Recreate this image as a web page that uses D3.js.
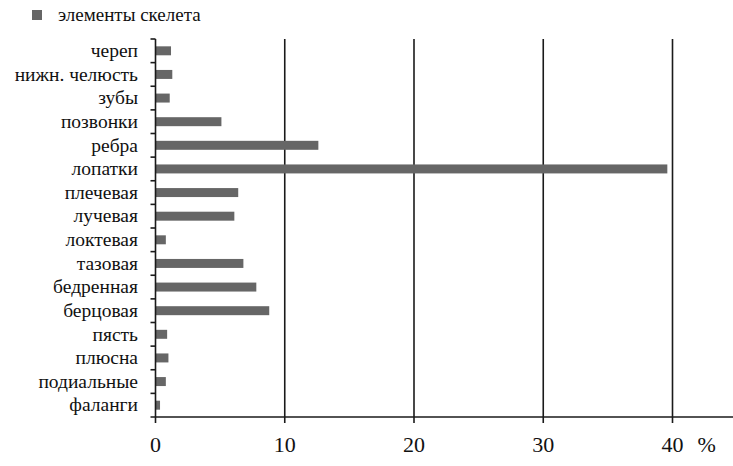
<!DOCTYPE html>
<html>
<head>
<meta charset="utf-8">
<script src="https://cdn.jsdelivr.net/npm/d3@7"></script>
<style>
  body { margin: 0; background: #fff; }
  svg text { font-family: 'Liberation Serif', 'Times New Roman', 'DejaVu Serif', serif; fill: #111; }
</style>
</head>
<body>
<svg id="board" width="733" height="466" font-family="'Liberation Serif', 'Times New Roman', serif"></svg>
<script>
// data
var categories = ["череп", "нижн. челюсть", "зубы", "позвонки", "ребра", "лопатки",
  "плечевая", "лучевая", "локтевая", "тазовая", "бедренная", "берцовая",
  "пясть", "плюсна", "подиальные", "фаланги"];
var values = [1.2, 1.3, 1.1, 5.1, 12.6, 39.6, 6.4, 6.1, 0.8, 6.8, 7.8, 8.8, 0.9, 1.0, 0.8, 0.35];
var tickValues = [0, 10, 20, 30, 40];
var seriesName = "элементы скелета";

var board = d3.select("#board");
var plotLeft = 155.5, plotTop = 39, plotBottom = 417;

var x = d3.scaleLinear().domain([0, 40]).range([plotLeft, 672.5]);
var y = d3.scaleBand().domain(categories).range([plotTop, plotBottom]).paddingInner(0.62).paddingOuter(0.31);
var band = d3.scaleBand().domain(categories).range([plotTop, plotBottom]);

// grid lines
board.selectAll("line.grid")
  .data(tickValues.filter(function(d){ return d > 0; }))
  .enter().append("line")
  .attr("class", "grid")
  .attr("x1", function(d){ return x(d); })
  .attr("x2", function(d){ return x(d); })
  .attr("y1", plotTop)
  .attr("y2", plotBottom)
  .attr("stroke", "#1a1a1a")
  .attr("stroke-width", 1.6);

// bars
board.selectAll("rect.bar")
  .data(values)
  .enter().append("rect")
  .attr("class", "bar")
  .attr("x", x(0))
  .attr("y", function(d, i){ return y(categories[i]); })
  .attr("width", function(d){ return x(d) - x(0); })
  .attr("height", y.bandwidth())
  .attr("fill", "#666");

// x axis
var xAxis = board.append("g").attr("transform", "translate(0," + plotBottom + ")");
xAxis.append("line")
  .attr("x1", plotLeft - 5).attr("x2", 733)
  .attr("stroke", "#1a1a1a").attr("stroke-width", 1.6);
xAxis.selectAll("line.tick")
  .data(tickValues)
  .enter().append("line")
  .attr("x1", function(d){ return x(d); })
  .attr("x2", function(d){ return x(d); })
  .attr("y1", 0).attr("y2", 6)
  .attr("stroke", "#1a1a1a").attr("stroke-width", 1.6);
xAxis.selectAll("text.tick")
  .data(tickValues)
  .enter().append("text")
  .attr("x", function(d){ return x(d); })
  .attr("y", 35)
  .attr("text-anchor", "middle")
  .attr("font-size", 22)
  .text(function(d){ return d; });
xAxis.append("text")
  .attr("x", x(40) + 25).attr("y", 35)
  .attr("font-size", 22)
  .text("%");

// y axis
var yAxis = board.append("g");
yAxis.append("line")
  .attr("x1", plotLeft).attr("x2", plotLeft)
  .attr("y1", plotTop).attr("y2", plotBottom)
  .attr("stroke", "#1a1a1a").attr("stroke-width", 1.6);
yAxis.selectAll("line.tick")
  .data(categories)
  .enter().append("line")
  .attr("x1", plotLeft - 5).attr("x2", plotLeft)
  .attr("y1", function(d){ return band(d); })
  .attr("y2", function(d){ return band(d); })
  .attr("stroke", "#1a1a1a").attr("stroke-width", 1.6);
yAxis.selectAll("text.cat")
  .data(categories)
  .enter().append("text")
  .attr("x", 138)
  .attr("y", function(d){ return band(d) + band.bandwidth() / 2; })
  .attr("dy", "0.32em")
  .attr("text-anchor", "end")
  .attr("font-size", 19.5)
  .text(function(d){ return d; });

// legend
board.append("rect")
  .attr("x", 32).attr("y", 10)
  .attr("width", 10).attr("height", 10)
  .attr("fill", "#666");
board.append("text")
  .attr("x", 58).attr("y", 21)
  .attr("font-size", 19)
  .text(seriesName);
</script>
</body>
</html>
